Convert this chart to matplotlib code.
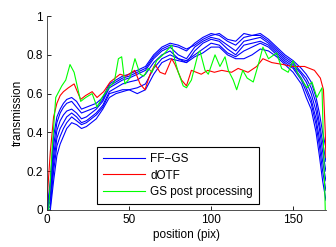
import matplotlib
matplotlib.use("Agg")
import matplotlib.pyplot as plt

plt.rcParams['font.family'] = ['Liberation Sans', 'DejaVu Sans']

# shared x grid for the FF-GS curves
x_ff = [0, 2, 4, 6, 8, 10, 12, 15, 18, 21, 24, 27, 30, 34, 38, 42, 46, 50, 55, 60,
        65, 70, 75, 80, 85, 90, 95, 100, 105, 110, 115, 120, 125, 130, 135, 140, 145,
        150, 155, 158, 161, 164, 166, 168, 170]

ff1 = [0.0, 0.15, 0.38, 0.48, 0.52, 0.55, 0.57, 0.58, 0.56, 0.52, 0.53, 0.54, 0.55, 0.58, 0.65,
       0.67, 0.69, 0.70, 0.72, 0.74, 0.80, 0.84, 0.86, 0.85, 0.83, 0.85, 0.88, 0.90, 0.91, 0.88,
       0.87, 0.91, 0.90, 0.91, 0.88, 0.84, 0.80, 0.77, 0.73, 0.70, 0.66, 0.58, 0.50, 0.40, 0.32]
ff2 = [0.0, 0.12, 0.33, 0.45, 0.50, 0.53, 0.55, 0.56, 0.53, 0.50, 0.51, 0.52, 0.53, 0.57, 0.64,
       0.66, 0.68, 0.69, 0.71, 0.73, 0.79, 0.83, 0.85, 0.84, 0.82, 0.86, 0.89, 0.91, 0.90, 0.87,
       0.85, 0.89, 0.90, 0.90, 0.87, 0.83, 0.79, 0.76, 0.71, 0.68, 0.63, 0.55, 0.45, 0.35, 0.25]
ff3 = [0.0, 0.08, 0.28, 0.41, 0.46, 0.49, 0.51, 0.52, 0.50, 0.47, 0.48, 0.50, 0.52, 0.56, 0.63,
       0.65, 0.67, 0.68, 0.70, 0.72, 0.78, 0.82, 0.84, 0.80, 0.78, 0.84, 0.87, 0.89, 0.88, 0.85,
       0.82, 0.87, 0.88, 0.89, 0.86, 0.82, 0.78, 0.75, 0.70, 0.66, 0.60, 0.51, 0.42, 0.30, 0.20]
ff4 = [0.0, 0.05, 0.24, 0.37, 0.42, 0.45, 0.48, 0.50, 0.48, 0.45, 0.46, 0.48, 0.50, 0.54, 0.61,
       0.63, 0.65, 0.66, 0.67, 0.70, 0.76, 0.80, 0.82, 0.78, 0.76, 0.82, 0.86, 0.88, 0.87, 0.83,
       0.80, 0.85, 0.86, 0.87, 0.85, 0.81, 0.77, 0.74, 0.68, 0.63, 0.57, 0.47, 0.37, 0.25, 0.15]
ff5 = [0.0, 0.02, 0.20, 0.33, 0.38, 0.42, 0.45, 0.48, 0.46, 0.44, 0.45, 0.47, 0.49, 0.53, 0.60,
       0.61, 0.62, 0.62, 0.63, 0.65, 0.73, 0.78, 0.80, 0.78, 0.77, 0.80, 0.83, 0.86, 0.85, 0.81,
       0.79, 0.82, 0.84, 0.86, 0.84, 0.80, 0.76, 0.73, 0.67, 0.61, 0.55, 0.44, 0.33, 0.20, 0.10]
ff6 = [0.0, 0.0, 0.15, 0.28, 0.34, 0.38, 0.42, 0.45, 0.44, 0.42, 0.43, 0.45, 0.47, 0.52, 0.58,
       0.60, 0.61, 0.62, 0.60, 0.62, 0.70, 0.76, 0.78, 0.77, 0.76, 0.79, 0.81, 0.84, 0.84, 0.80,
       0.78, 0.78, 0.80, 0.83, 0.82, 0.79, 0.75, 0.71, 0.65, 0.58, 0.52, 0.40, 0.28, 0.15, 0.05]

x_dotf = [0, 2, 4, 6, 8, 10, 13, 16.5, 20.5, 23.5, 27.5, 30.5, 34.5, 38.5, 44.5, 48, 53.5,
          56.7, 59.7, 62.8, 65.8, 68.9, 72, 76, 78, 82, 85, 88, 94, 98, 102, 106.5, 112.5,
          116.5, 122.5, 127.8, 131.6, 137, 144, 149, 157, 163, 166.6, 168.5, 169.6, 170]
dotf = [0.05, 0.30, 0.48, 0.55, 0.59, 0.61, 0.63, 0.65, 0.57, 0.59, 0.61, 0.58, 0.61, 0.66,
        0.70, 0.69, 0.72, 0.65, 0.62, 0.70, 0.75, 0.71, 0.70, 0.78, 0.75, 0.67, 0.64, 0.72,
        0.70, 0.72, 0.71, 0.72, 0.71, 0.73, 0.71, 0.74, 0.78, 0.76, 0.75, 0.74, 0.74, 0.72,
        0.68, 0.62, 0.40, 0.27]

x_gs = [1, 3, 5.3, 9, 11.4, 14, 16.5, 20.5, 23.6, 27.5, 30.5, 33.5, 38.4, 41, 43.5, 45.5,
        47.5, 50.5, 53.6, 56.7, 59, 61.7, 64, 66.8, 70.7, 74, 76, 78, 80, 83, 85, 88, 92.2,
        93.2, 96.3, 98.3, 102.4, 105.4, 108.5, 110.5, 113.5, 115.6, 119.3, 122, 125.7,
        128.8, 131.6, 135, 140, 143, 147, 150, 153, 158.5, 161.5, 164.5, 167.6, 169.6]
gs_post = [0.0, 0.30, 0.58, 0.64, 0.67, 0.75, 0.71, 0.56, 0.58, 0.60, 0.53, 0.58, 0.64, 0.66,
           0.78, 0.79, 0.65, 0.68, 0.78, 0.70, 0.69, 0.73, 0.71, 0.77, 0.80, 0.83, 0.85, 0.77,
           0.71, 0.64, 0.63, 0.67, 0.81, 0.82, 0.72, 0.70, 0.80, 0.74, 0.79, 0.72, 0.67, 0.62,
           0.72, 0.68, 0.66, 0.75, 0.84, 0.78, 0.81, 0.73, 0.71, 0.77, 0.70, 0.63, 0.66, 0.58,
           0.63, 0.0]

fig = plt.figure(figsize=(3.36, 2.47), dpi=100)
ax = fig.add_axes([0.14, 0.150, 0.83, 0.785])

lw = 0.8
for i, ff in enumerate([ff1, ff2, ff3, ff4, ff5, ff6]):
    ax.plot(x_ff, ff, color='#0000ff', linewidth=lw, label='FF\u2212GS' if i == 0 else None)
ax.plot(x_dotf, dotf, color='#ff0000', linewidth=lw, label='dOTF')
ax.plot(x_gs, gs_post, color='#00ff00', linewidth=lw, label='GS post processing')

ax.set_xlim(0, 170)
ax.set_ylim(0, 1)
ax.set_xticks([0, 50, 100, 150])
ax.set_yticks([0, 0.2, 0.4, 0.6, 0.8, 1])
ax.set_yticklabels(['0', '0.2', '0.4', '0.6', '0.8', '1'])
ax.tick_params(direction='in', length=3, labelsize=8.5, width=0.6, pad=3)
ax.spines['top'].set_visible(False)
ax.spines['right'].set_visible(False)
for s in ['left', 'bottom']:
    ax.spines[s].set_linewidth(0.6)
    ax.spines[s].set_color('#333333')

ax.set_xlabel('position (pix)', fontsize=8.5, labelpad=2)
ax.set_ylabel('transmission', fontsize=8.5, labelpad=2)

leg = ax.legend(loc='upper left', bbox_to_anchor=(97 / 336, 1 - 147 / 247),
                bbox_transform=fig.transFigure, borderaxespad=0, fontsize=8.5,
                fancybox=False, framealpha=1, edgecolor='black', handlelength=3.6,
                handletextpad=0.4, labelspacing=0.4, borderpad=0.5)
leg.get_frame().set_linewidth(0.8)

fig.savefig('out.png', dpi=100)
